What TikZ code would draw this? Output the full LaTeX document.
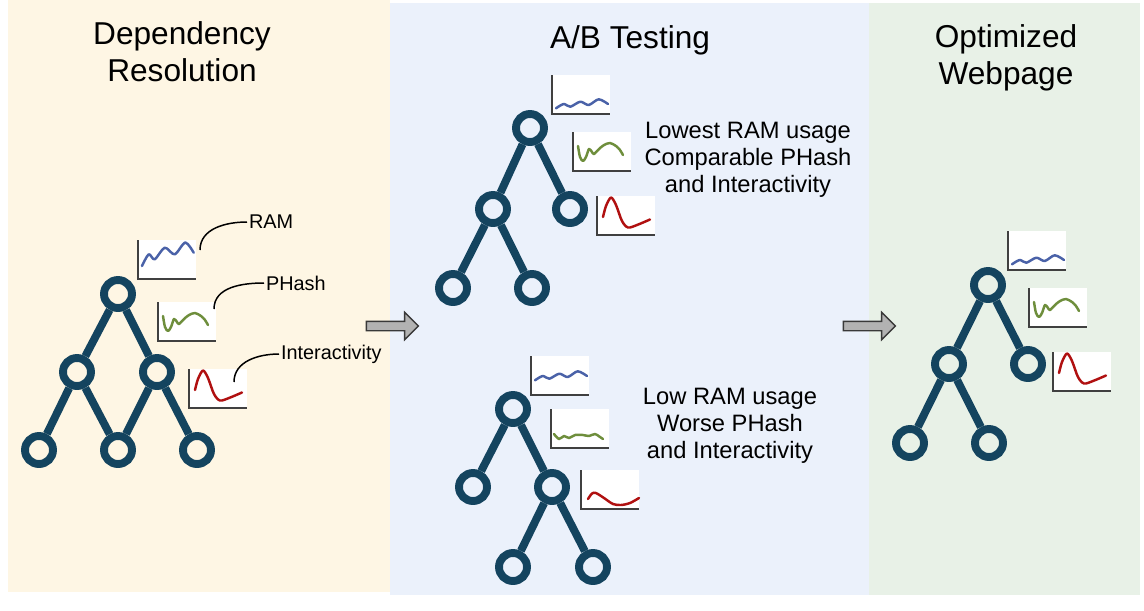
\documentclass[tikz,border=0pt]{standalone}
\usepackage{fontspec}
\setmainfont{Liberation Sans}
\usetikzlibrary{shapes.arrows}
\definecolor{treeblue}{HTML}{14445F}
\definecolor{ramblue}{HTML}{4A62A8}
\definecolor{phgreen}{HTML}{6E8E3C}
\definecolor{intred}{HTML}{B01010}
\definecolor{depbg}{HTML}{FEF6E4}
\definecolor{abbg}{HTML}{EBF1FB}
\definecolor{optbg}{HTML}{E8F1E7}
\tikzset{
  chartline/.style={line width=1.4pt, line cap=round, line join=round},
  chart/.pic={
    \fill[white] (0,0) rectangle (58,39);
    \draw[line width=0.6pt, black!75] (0,0) -- (0,39) -- (58,39);
  },
  ram wavy/.pic={
    \pic {chart};
    \draw[chartline, ramblue] plot[smooth] coordinates {(4,26) (10.7,14.3) (16.7,19.3) (26.7,7.7) (36.7,14.3) (47.3,2.5) (55.7,12.7)};
  },
  ram flat/.pic={
    \pic {chart};
    \draw[chartline, ramblue, shift={(0,#1)}] plot[smooth] coordinates {(4,24.3) (11.7,20) (18.3,22.7) (28.3,17.7) (36.7,21) (46.7,15.3) (56,20)};
  },
  phash wavy/.pic={
    \pic {chart};
    \draw[chartline, phgreen] plot[smooth] coordinates {(5,14) (7,25) (10,29) (13,25) (16,17) (19,20) (21,22) (26,17) (31,13) (37,11) (43,14) (47,18) (50,23)};
  },
  phash flat/.pic={
    \pic {chart};
    \draw[chartline, phgreen] plot[smooth] coordinates {(3,25) (8,30) (13,27) (18,29) (24,26) (32,26) (38,27) (44,25) (49,28) (52,30)};
  },
  inter peak/.pic={
    \pic {chart};
    \draw[chartline, intred] plot[smooth] coordinates {(6,21) (9,10) (14,1.5) (19,9) (25,25) (31,31.5) (40,29) (53,23.5)};
  },
  inter smooth/.pic={
    \pic {chart};
    \draw[chartline, intred] plot[smooth] coordinates {(7,29) (11,23.5) (15,23) (23,28) (32,34) (40,35) (49,33) (58,28)};
  }
}
\begin{document}
\begin{tikzpicture}[x=0.02cm, y=-0.02cm,
  tnode/.style={circle, draw=treeblue, line width=4.5pt, minimum size=0.56cm, inner sep=0pt},
  tedge/.style={draw=treeblue, line width=4.5pt},
  title/.style={align=center, font=\fontsize{18}{21}\selectfont},
  desc/.style={align=center, font=\fontsize{13.5}{15.5}\selectfont},
  lbl/.style={anchor=west, inner sep=1pt, font=\fontsize{11.3}{13}\selectfont},
  leader/.style={draw=black, line width=0.85pt},
  bigarrow/.style={single arrow, draw=gray!45!black, fill=gray!60, line width=0.8pt, minimum height=1.04cm, inner sep=0pt, inner ysep=0.08cm, single arrow head extend=0.18cm}]
\useasboundingbox (0,0) rectangle (1144,610);
\fill[depbg] (8,0) rectangle (390,592);
\fill[abbg] (390,3) rectangle (869,595);
\fill[optbg] (869,3) rectangle (1140,595);

\node[title] (hdep) at (182,52) {Dependency\\Resolution};
\node[title] (hab) at (630,40) {A/B Testing};
\node[title] (hopt) at (1006,58) {Optimized\\Webpage};

% dependency resolution
\node[tnode] (dr0) at (118,294) {};
\node[tnode] (dr1) at (77,372) {};
\node[tnode] (dr2) at (157,372) {};
\node[tnode] (dr3) at (39,450) {};
\node[tnode] (dr4) at (118,450) {};
\node[tnode] (dr5) at (197,450) {};
\draw[tedge] (dr0) -- (dr1);
\draw[tedge] (dr0) -- (dr2);
\draw[tedge] (dr1) -- (dr3);
\draw[tedge] (dr1) -- (dr4);
\draw[tedge] (dr2) -- (dr4);
\draw[tedge] (dr2) -- (dr5);
\pic at (138,240) {ram wavy};
\pic at (158,302) {phash wavy};
\pic at (189,369) {inter peak};
\node[lbl] (lram) at (247,222) {RAM};
\node[lbl] (lph) at (264,283) {PHash};
\node[lbl] (lint) at (279,354) {Interactivity};
\coordinate (cram) at (200,250);
\coordinate (cph) at (214,309);
\coordinate (cint) at (234,382);
\draw[leader] (cram) to[out=90, in=180] (lram.west);
\draw[leader] (cph) to[out=90, in=180] (lph.west);
\draw[leader] (cint) to[out=90, in=180] (lint.west);

% a/b testing, upper
\node[tnode] (ta0) at (530,128) {};
\node[tnode] (ta1) at (493,209) {};
\node[tnode] (ta2) at (570,209) {};
\node[tnode] (ta3) at (453,288) {};
\node[tnode] (ta4) at (532,288) {};
\draw[tedge] (ta0) -- (ta1);
\draw[tedge] (ta0) -- (ta2);
\draw[tedge] (ta1) -- (ta3);
\draw[tedge] (ta1) -- (ta4);
\pic at (552,75) {ram flat=9};
\pic at (573,132) {phash wavy};
\pic at (597,196) {inter peak};
\node[desc] (dta) at (748,160) {Lowest RAM usage\\Comparable PHash\\and Interactivity};

% a/b testing, lower
\node[tnode] (tb0) at (513,409) {};
\node[tnode] (tb1) at (473,487) {};
\node[tnode] (tb2) at (552,487) {};
\node[tnode] (tb3) at (513,567) {};
\node[tnode] (tb4) at (593,567) {};
\draw[tedge] (tb0) -- (tb1);
\draw[tedge] (tb0) -- (tb2);
\draw[tedge] (tb2) -- (tb3);
\draw[tedge] (tb2) -- (tb4);
\pic at (531,356) {ram flat=0};
\pic at (551,409) {phash flat};
\pic at (581,470) {inter smooth};
\node[desc] (dtb) at (730,426) {Low RAM usage\\Worse PHash\\and Interactivity};

% optimized webpage
\node[tnode] (op0) at (988,285) {};
\node[tnode] (op1) at (949,364) {};
\node[tnode] (op2) at (1028,364) {};
\node[tnode] (op3) at (910,443) {};
\node[tnode] (op4) at (989,443) {};
\draw[tedge] (op0) -- (op1);
\draw[tedge] (op0) -- (op2);
\draw[tedge] (op1) -- (op3);
\draw[tedge] (op1) -- (op4);
\pic at (1008,231) {ram flat=9};
\pic at (1029,288) {phash wavy};
\pic at (1053,352) {inter peak};

\node[bigarrow] (arr1) at (390,326) {};
\node[bigarrow] (arr2) at (867,326) {};
\end{tikzpicture}
\end{document}
